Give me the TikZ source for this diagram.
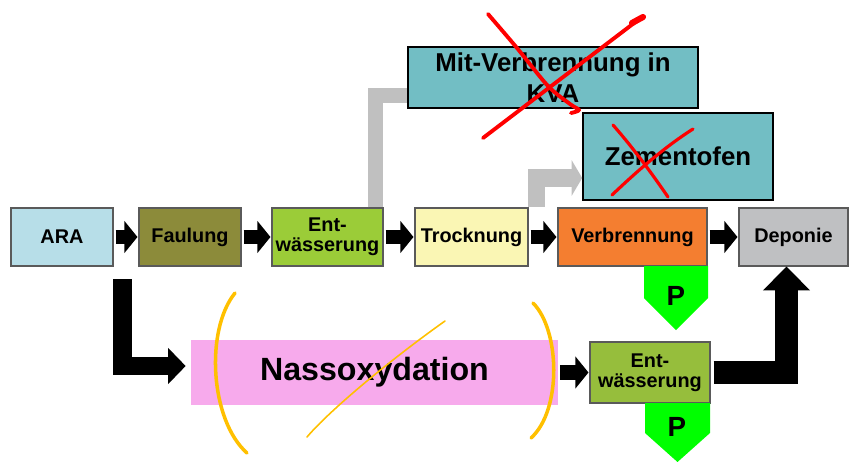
\documentclass[tikz,border=0pt]{standalone}
\usepackage{fontspec}
\setmainfont{Liberation Sans}
\usetikzlibrary{arrows.meta}

\definecolor{araBlau}{RGB}{183,222,232}
\definecolor{faulOliv}{RGB}{140,139,58}
\definecolor{entGruen}{RGB}{155,204,56}
\definecolor{entGruenB}{RGB}{150,190,60}
\definecolor{trockenGelb}{RGB}{250,246,180}
\definecolor{brennOrange}{RGB}{244,126,48}
\definecolor{deponieGrau}{RGB}{191,192,194}
\definecolor{kvaTuerkis}{RGB}{114,190,196}
\definecolor{nassRosa}{RGB}{247,170,236}
\definecolor{pGruen}{RGB}{0,255,0}
\definecolor{pfeilGrau}{RGB}{192,192,192}
\definecolor{randGrau}{RGB}{90,90,90}
\definecolor{kreuzRot}{RGB}{255,0,0}
\definecolor{klammerGelb}{RGB}{255,192,0}

\begin{document}
\begin{tikzpicture}[x=0.02cm,y=-0.02cm]
% styles
\tikzstyle{kasten}=[rectangle, draw=randGrau, line width=0.6pt, minimum height=1.16cm, inner sep=0pt, align=center, font=\fontsize{11.3}{11.5}\selectfont\bfseries]
\tikzstyle{grosskasten}=[rectangle, draw=black, line width=0.9pt, inner sep=0pt, align=center, font=\fontsize{14.7}{17.5}\selectfont\bfseries]
\tikzstyle{pfeil}=[line width=8.5pt, color=black, -{Triangle[length=7.5pt,width=18pt]}, shorten <=0.04cm, shorten >=0.02cm]
\tikzstyle{grauerpfeil}=[line width=8.5pt, color=pfeilGrau, line join=miter]
\tikzstyle{pmarke}=[inner sep=0pt, font=\fontsize{15.8}{16}\selectfont\bfseries]
\tikzstyle{kreuz}=[draw=kreuzRot, line width=2.2pt, line cap=round, line join=round]
\tikzstyle{klammer}=[draw=klammerGelb, line width=2pt, line cap=round]

\useasboundingbox (0,0) rectangle (850,461);

% die Kästen
\node[kasten, fill=araBlau, minimum width=2.04cm] (ARA) at (62,237) {ARA};
\node[kasten, fill=faulOliv, minimum width=2.04cm] (Faulung) at (190,237) {Faulung};
\node[kasten, fill=entGruen, minimum width=2.22cm] (Ent1) at (327.5,237) {Ent-\\wässerung};
\node[kasten, fill=trockenGelb, minimum width=2.26cm] (Trocknung) at (471.5,237) {Trocknung};
\node[kasten, fill=brennOrange, minimum width=2.98cm] (Verbrennung) at (632.5,237) {Verbrennung};
\node[kasten, fill=deponieGrau, minimum width=2.18cm] (Deponie) at (793.5,237) {Deponie};
\node[grosskasten, fill=kvaTuerkis, minimum width=5.8cm, minimum height=1.22cm] (KVA) at (553,77.5) {Mit-Verbrennung in\\KVA};
\node[grosskasten, fill=kvaTuerkis, minimum width=3.8cm, minimum height=1.74cm] (Zement) at (678,156.5) {Zementofen};
\node[rectangle, fill=nassRosa, minimum width=7.34cm, minimum height=1.3cm, inner sep=0pt, font=\fontsize{18.3}{20}\selectfont\bfseries] (Nasso) at (374.5,372.5) {Nassoxydation};
\node[kasten, fill=entGruenB, minimum width=2.4cm, minimum height=1.22cm] (Ent2) at (650,372.5) {Ent-\\wässerung};

% P-Marken
\fill[pGruen] (644,266) -- (708,266) -- (708,298) -- (676,330) -- (644,298) -- cycle;
\node[pmarke] (P1) at (676,296) {P};
\fill[pGruen] (645,403) -- (710,403) -- (710,433) -- (677.5,462) -- (645,433) -- cycle;
\node[pmarke] (P2) at (677,427) {P};

% die Pfeile
\draw[pfeil] (ARA) -- (Faulung);
\draw[pfeil] (Faulung) -- (Ent1);
\draw[pfeil] (Ent1) -- (Trocknung);
\draw[pfeil] (Trocknung) -- (Verbrennung);
\draw[pfeil] (Verbrennung) -- (Deponie);
\draw[pfeil] (Nasso) -- (Ent2);
\coordinate (Lstart) at (122.5,279);
\draw[pfeil, line width=10.8pt, line join=miter, -{Triangle[length=10pt,width=20pt]}, shorten <=0pt, shorten >=0.1cm] (Lstart) |- ([yshift=0.13cm]Nasso.west);
\draw[pfeil, line width=13.6pt, line join=miter, -{Triangle[length=13.6pt,width=26pt]}, shorten <=0.06cm, shorten >=0pt] (Ent2.east) -| ([xshift=-0.14cm]Deponie.south);
\draw[grauerpfeil] ([xshift=-0.16cm]Ent1.north east) |- ([yshift=-0.36cm]KVA.west);
\draw[grauerpfeil, line width=10pt, -{Triangle[length=6pt,width=20pt]}] ([xshift=0.16cm]Trocknung.north east) |- ([yshift=-0.43cm]Zement.west);

% Korrekturen
\draw[kreuz] plot[smooth] coordinates {(488,14) (517,48) (548,86) (570,104) (579,110) (571,113)};
\draw[kreuz] (642,17) -- (483,138);
\draw[kreuz, line width=3.5pt] (643,17) -- (632,23);
\draw[kreuz, line width=1.8pt] (613,125) .. controls (635,150) and (655,178) .. (668,197);
\draw[kreuz, line width=1.8pt] (693,129) .. controls (660,150) and (630,178) .. (612,195);
\draw[klammer] (235,293) .. controls (205,330) and (210,420) .. (247,453);
\draw[klammer] (533,303) .. controls (560,330) and (562,410) .. (531,438);
\draw[klammer, line width=0.9pt] (445,321) .. controls (390,360) and (330,410) .. (307,437);
\end{tikzpicture}
\end{document}
